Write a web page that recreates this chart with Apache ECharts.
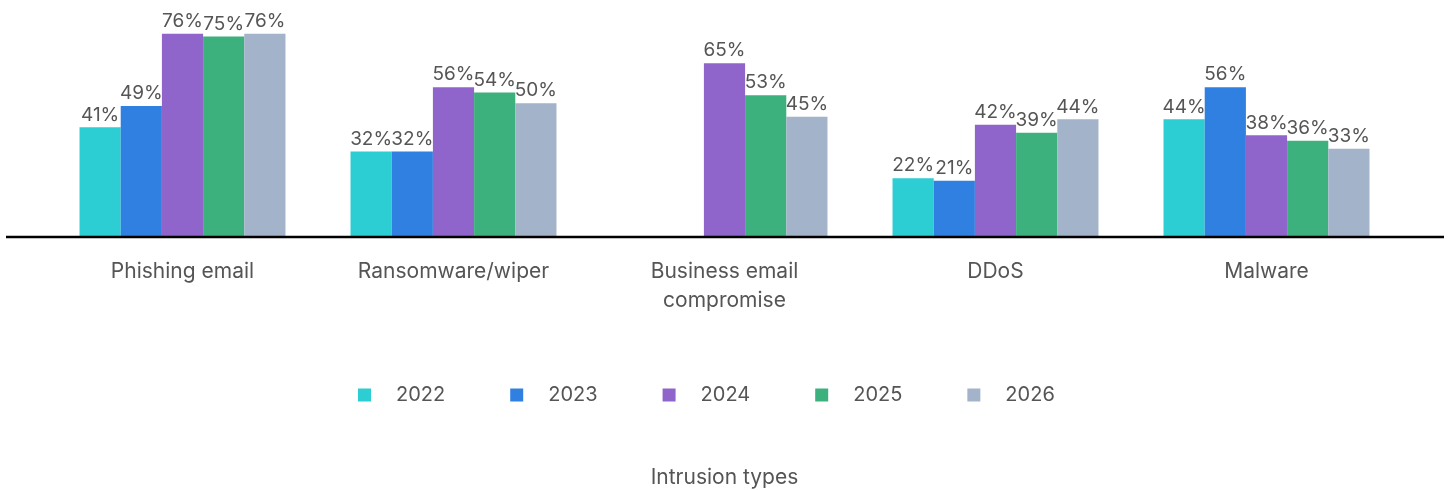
<!DOCTYPE html>
<html>
<head>
<meta charset="utf-8">
<script src="https://cdn.jsdelivr.net/npm/echarts@6/dist/echarts.min.js"></script>
<style>
  html, body { margin: 0; padding: 0; background: #fff; }
  #chart { width: 1449px; height: 490px; }
</style>
</head>
<body>
<div id="chart"></div>
<script>
// Intrusion categories on the x axis
const categories = ['Phishing email', 'Ransomware/wiper', 'Business email\ncompromise', 'DDoS', 'Malware'];
// Years shown in the legend
const years = ['2022', '2023', '2024', '2025', '2026'];
// Share of respondents (%) per year, in category order
const values2022 = [41, 32, null, 22, 44];
const values2023 = [49, 32, null, 21, 56];
const values2024 = [76, 56, 65, 42, 38];
const values2025 = [75, 54, 53, 39, 36];
const values2026 = [76, 50, 45, 44, 33];
const seriesValues = [values2022, values2023, values2024, values2025, values2026];
const colors = ['#2ccdd3', '#2f80e1', '#9065cb', '#3db17d', '#a3b3c9'];

const font = 'Inter';
const textColor = '#555';
const chart = echarts.init(document.getElementById('chart'), null, { renderer: 'canvas' });

const option = {
  animation: false,
  color: colors,
  grid: { left: 47, right: 47, top: 23, bottom: 253, containLabel: false, outerBoundsMode: 'none' },
  legend: {
    data: years,
    bottom: 80,
    left: 353,
    icon: 'rect',
    itemWidth: 13,
    itemHeight: 13,
    itemGap: 65,
    textStyle: { fontFamily: font, fontSize: 20, color: textColor, padding: [0, 0, 0, 20] }
  },
  xAxis: {
    type: 'category',
    data: categories,
    name: 'Intrusion types',
    nameLocation: 'middle',
    nameGap: 230,
    nameTextStyle: { fontFamily: font, fontSize: 21, color: textColor },
    axisLine: { show: false },
    axisTick: { show: false },
    axisLabel: { fontFamily: font, fontSize: 21, color: textColor, margin: 20, lineHeight: 29 }
  },
  yAxis: {
    type: 'value',
    min: 0,
    max: 80,
    show: false,
    splitLine: { show: false }
  },
  series: years.map((y, i) => ({
    name: y,
    type: 'bar',
    data: seriesValues[i],
    barGap: 0,
    barCategoryGap: '24%',
    label: {
      show: true,
      position: 'top',
      distance: 3,
      formatter: p => p.value + '%',
      fontFamily: font,
      fontSize: 19,
      color: textColor
    }
  }))
};
chart.setOption(option);

// Baseline at zero, spanning the full width of the chart
const y0 = chart.convertToPixel({ yAxisIndex: 0 }, 0);
chart.setOption({
  graphic: [{
    type: 'line',
    z: 100,
    shape: { x1: 6, y1: y0, x2: 1444, y2: y0 },
    style: { stroke: '#000', lineWidth: 2.5 }
  }]
});
</script>
</body>
</html>
